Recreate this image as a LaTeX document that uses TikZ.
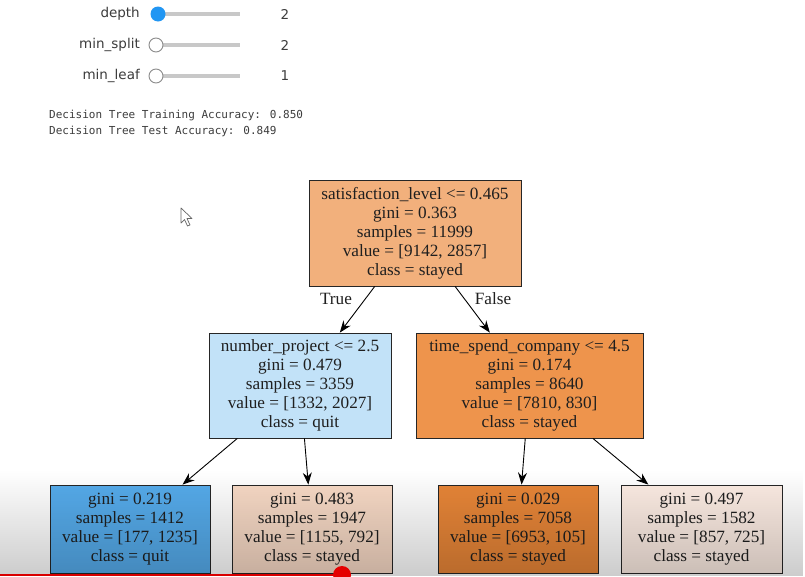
\documentclass[tikz,border=0pt]{standalone}
\usepackage{fontspec}
\setmainfont{Liberation Serif}
\newfontfamily\uisans{DejaVu Sans}
\newfontfamily\uimono{DejaVu Sans Mono}
\usetikzlibrary{arrows.meta,fadings}
\definecolor{cRoot}{RGB}{242,176,124}
\definecolor{cLM}{RGB}{194,226,248}
\definecolor{cRM}{RGB}{238,148,76}
\definecolor{cL1}{RGB}{86,172,236}
\definecolor{cL2}{RGB}{248,218,198}
\definecolor{cL3}{RGB}{232,134,56}
\definecolor{cL4}{RGB}{253,237,228}
\definecolor{uitext}{RGB}{60,60,60}
\definecolor{track}{RGB}{200,200,200}
\definecolor{knob}{RGB}{33,150,243}
\begin{document}
\begin{tikzpicture}[x=1pt,y=-1pt,
  treenode/.style={draw=black!85, line width=0.8pt, rectangle, align=center,
    inner sep=0pt, font=\fontsize{17.2}{19}\selectfont, text=black!88},
  midnode/.style={treenode, minimum height=105pt},
  leafnode/.style={treenode, minimum width=160pt, minimum height=88pt},
  treeedge/.style={-{Stealth[length=12pt,width=9pt]}, line width=0.9pt, black},
  edgelabel/.style={font=\fontsize{17.2}{19}\selectfont, text=black!88},
  uilabel/.style={font=\uisans\fontsize{13.5}{16}\selectfont, text=uitext},
  slidertrack/.style={line width=4pt, track},
  emptyknob/.style={circle, draw=black!45, fill=white, line width=0.9pt, minimum size=14pt, inner sep=0pt},
  fullknob/.style={circle, fill=knob, minimum size=15pt, inner sep=0pt},
  monotext/.style={font=\uimono\fontsize{11}{16}\selectfont, text=uitext, anchor=west, inner sep=0pt}
]
\useasboundingbox (0,0) rectangle (805,576);
\fill[white] (0,0) rectangle (805,576);

% widgets
\node[uilabel, anchor=east, inner sep=0pt] (lbdepth) at (140,14) {depth};
\node[uilabel, anchor=east, inner sep=0pt] (lbsplit) at (140,45) {min\_split};
\node[uilabel, anchor=east, inner sep=0pt] (lbleaf) at (140,76) {min\_leaf};
\coordinate (t1a) at (152,14); \coordinate (t1b) at (240,14);
\coordinate (t2a) at (152,45); \coordinate (t2b) at (240,45);
\coordinate (t3a) at (152,76); \coordinate (t3b) at (240,76);
\draw[slidertrack] (t1a) -- (t1b);
\draw[slidertrack] (t2a) -- (t2b);
\draw[slidertrack] (t3a) -- (t3b);
\node[fullknob] (k1) at (158,14) {};
\node[emptyknob] (k2) at (156,45) {};
\node[emptyknob] (k3) at (156,76) {};
\node[uilabel, inner sep=0pt] (v1) at (285,14) {2};
\node[uilabel, inner sep=0pt] (v2) at (285,45) {2};
\node[uilabel, inner sep=0pt] (v3) at (285,76) {1};

\node[monotext] (acc1) at (49,115) {Decision Tree Training Accuracy: 0.850};
\node[monotext] (acc2) at (49,131) {Decision Tree Test Accuracy: 0.849};

% mouse cursor
\draw[fill=white, draw=black!60, line width=0.7pt, line join=round]
  (181,208) -- (181,223) -- (184.5,219.5) -- (187.5,226) -- (190,225) -- (187,218.5) -- (192,218.5) -- cycle;

% tree
\node[treenode, fill=cRoot, minimum width=212pt, minimum height=106pt] (root) at (415,233)
  {satisfaction\_level <= 0.465\\gini = 0.363\\samples = 11999\\value = [9142, 2857]\\class = stayed};
\node[midnode, fill=cLM, minimum width=182pt] (lm) at (300,385.5)
  {number\_project <= 2.5\\gini = 0.479\\samples = 3359\\value = [1332, 2027]\\class = quit};
\node[midnode, fill=cRM, minimum width=227pt] (rm) at (529.5,385.5)
  {time\_spend\_company <= 4.5\\gini = 0.174\\samples = 8640\\value = [7810, 830]\\class = stayed};
\node[leafnode, fill=cL1] (l1) at (130,529)
  {gini = 0.219\\samples = 1412\\value = [177, 1235]\\class = quit};
\node[leafnode, fill=cL2] (l2) at (312,529)
  {gini = 0.483\\samples = 1947\\value = [1155, 792]\\class = stayed};
\node[leafnode, fill=cL3] (l3) at (518,529)
  {gini = 0.029\\samples = 7058\\value = [6953, 105]\\class = stayed};
\node[leafnode, fill=cL4, minimum width=161pt] (l4) at (701.5,529)
  {gini = 0.497\\samples = 1582\\value = [857, 725]\\class = stayed};

\draw[treeedge] (root) -- (lm);
\draw[treeedge] (root) -- (rm);
\draw[treeedge] (lm) -- (l1);
\draw[treeedge] (lm) -- (l2);
\draw[treeedge] (rm) -- (l3);
\draw[treeedge] (rm) -- (l4);
\node[edgelabel] (ltrue) at (336,299) {True};
\node[edgelabel] (lfalse) at (493,299) {False};

% video player shading
\fill[black, path fading=north, fill opacity=0.2] (0,470) rectangle (805,576);
\coordinate (pa) at (0,575);
\coordinate (pb) at (342,575);
\draw[red!85!black, line width=1.5pt] (pa) -- (pb);
\fill[red!90!black] (pb) circle (9pt);
\end{tikzpicture}
\end{document}
